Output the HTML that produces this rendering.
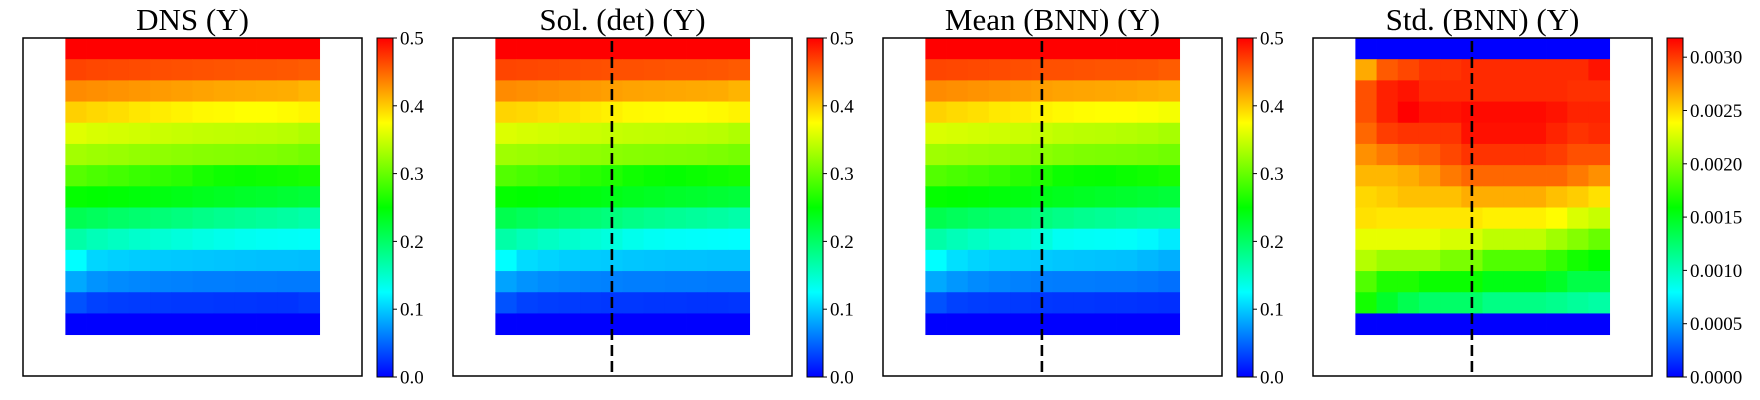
<!DOCTYPE html>
<html><head><meta charset="utf-8"><style>
html,body{margin:0;padding:0;background:#fff;}
svg{display:block;}
text{font-family:"Liberation Serif",serif;fill:#000;}
</style></head>
<body>
<svg id="chart" width="1760" height="400" viewBox="0 0 1760 400" xmlns="http://www.w3.org/2000/svg">
<defs>
<linearGradient id="cmap" x1="0" y1="1" x2="0" y2="0">
<stop offset="0" stop-color="#0000ff"/><stop offset="0.25" stop-color="#00ffff"/><stop offset="0.5" stop-color="#00ff00"/><stop offset="0.75" stop-color="#ffff00"/><stop offset="1" stop-color="#ff0000"/>
</linearGradient>
</defs>
</svg>
<script>
// ---- data ----
const panelTitles = ["DNS (Y)", "Sol. (det) (Y)", "Mean (BNN) (Y)", "Std. (BNN) (Y)"];
const meanTicks = [0.0, 0.1, 0.2, 0.3, 0.4, 0.5];
const meanTickLabels = ["0.0", "0.1", "0.2", "0.3", "0.4", "0.5"];
const stdTicks = [0.0, 0.0005, 0.0010, 0.0015, 0.0020, 0.0025, 0.0030];
const stdTickLabels = ["0.0000", "0.0005", "0.0010", "0.0015", "0.0020", "0.0025", "0.0030"];
const meanMax = 0.5;
const stdMax = 0.00318;
const dnsGrid = [
[0.500,0.500,0.500,0.500,0.500,0.500,0.500,0.500,0.500,0.500,0.500,0.500],
[0.467,0.465,0.464,0.463,0.462,0.461,0.460,0.459,0.458,0.458,0.457,0.455],
[0.432,0.430,0.428,0.426,0.424,0.422,0.420,0.418,0.417,0.416,0.415,0.411],
[0.398,0.394,0.391,0.387,0.384,0.381,0.378,0.377,0.375,0.375,0.377,0.380],
[0.360,0.356,0.354,0.352,0.349,0.347,0.345,0.344,0.343,0.342,0.340,0.336],
[0.330,0.327,0.325,0.322,0.320,0.318,0.316,0.315,0.314,0.313,0.311,0.307],
[0.292,0.287,0.283,0.278,0.274,0.270,0.262,0.257,0.255,0.257,0.259,0.262],
[0.252,0.250,0.248,0.245,0.242,0.239,0.236,0.233,0.230,0.228,0.225,0.222],
[0.210,0.205,0.200,0.196,0.192,0.188,0.184,0.180,0.177,0.174,0.171,0.167],
[0.168,0.160,0.155,0.150,0.146,0.142,0.138,0.135,0.132,0.130,0.129,0.128],
[0.125,0.105,0.102,0.100,0.099,0.098,0.097,0.096,0.095,0.094,0.094,0.093],
[0.083,0.072,0.068,0.066,0.064,0.063,0.062,0.062,0.061,0.061,0.060,0.060],
[0.040,0.032,0.030,0.029,0.028,0.027,0.027,0.026,0.026,0.025,0.025,0.028],
[0.000,0.000,0.000,0.000,0.000,0.000,0.000,0.000,0.000,0.000,0.000,0.000]
];
const detGrid = [
[0.500,0.500,0.500,0.500,0.500,0.500,0.500,0.500,0.500,0.500,0.500,0.500],
[0.466,0.465,0.464,0.463,0.462,0.461,0.461,0.460,0.459,0.459,0.458,0.456],
[0.432,0.430,0.428,0.426,0.424,0.422,0.420,0.419,0.418,0.417,0.416,0.412],
[0.396,0.394,0.391,0.388,0.385,0.382,0.378,0.377,0.376,0.376,0.378,0.381],
[0.358,0.355,0.353,0.351,0.349,0.347,0.345,0.344,0.343,0.342,0.340,0.336],
[0.328,0.326,0.324,0.322,0.320,0.318,0.316,0.315,0.314,0.313,0.311,0.308],
[0.290,0.286,0.282,0.277,0.270,0.265,0.258,0.254,0.252,0.255,0.258,0.261],
[0.252,0.250,0.248,0.245,0.242,0.239,0.236,0.233,0.230,0.228,0.225,0.222],
[0.212,0.206,0.201,0.197,0.193,0.189,0.184,0.180,0.177,0.174,0.171,0.167],
[0.168,0.160,0.154,0.149,0.145,0.141,0.134,0.130,0.128,0.127,0.126,0.125],
[0.125,0.108,0.104,0.101,0.100,0.099,0.097,0.096,0.095,0.095,0.094,0.094],
[0.080,0.072,0.068,0.066,0.064,0.063,0.062,0.062,0.061,0.061,0.060,0.060],
[0.040,0.032,0.030,0.029,0.028,0.027,0.027,0.026,0.026,0.025,0.025,0.026],
[0.000,0.000,0.000,0.000,0.000,0.000,0.000,0.000,0.000,0.000,0.000,0.000]
];
const bnnMeanGrid = [
[0.500,0.500,0.500,0.500,0.500,0.500,0.500,0.500,0.500,0.500,0.500,0.500],
[0.466,0.465,0.464,0.463,0.462,0.461,0.461,0.460,0.459,0.459,0.458,0.455],
[0.432,0.430,0.428,0.426,0.424,0.422,0.420,0.419,0.418,0.417,0.415,0.413],
[0.397,0.393,0.390,0.386,0.384,0.381,0.378,0.376,0.375,0.375,0.373,0.370],
[0.357,0.355,0.353,0.351,0.349,0.347,0.343,0.341,0.340,0.338,0.336,0.332],
[0.328,0.326,0.324,0.322,0.320,0.318,0.314,0.312,0.311,0.310,0.308,0.305],
[0.290,0.286,0.282,0.277,0.270,0.265,0.256,0.253,0.252,0.255,0.258,0.262],
[0.252,0.250,0.248,0.245,0.242,0.239,0.236,0.233,0.230,0.228,0.225,0.222],
[0.212,0.206,0.201,0.197,0.193,0.189,0.184,0.180,0.177,0.174,0.171,0.170],
[0.168,0.160,0.154,0.149,0.145,0.141,0.131,0.129,0.128,0.127,0.122,0.115],
[0.125,0.110,0.104,0.101,0.100,0.099,0.097,0.096,0.095,0.094,0.090,0.086],
[0.083,0.074,0.068,0.065,0.063,0.062,0.061,0.061,0.060,0.060,0.058,0.055],
[0.040,0.032,0.030,0.029,0.028,0.027,0.026,0.026,0.025,0.025,0.024,0.023],
[0.000,0.000,0.000,0.000,0.000,0.000,0.000,0.000,0.000,0.000,0.000,0.000]
];
const bnnStdGrid = [
[0.00000,0.00000,0.00000,0.00000,0.00000,0.00000,0.00000,0.00000,0.00000,0.00000,0.00000,0.00000],
[0.00265,0.00290,0.00296,0.00302,0.00302,0.00305,0.00305,0.00305,0.00305,0.00305,0.00305,0.00312],
[0.00293,0.00308,0.00312,0.00305,0.00305,0.00305,0.00305,0.00305,0.00305,0.00305,0.00303,0.00303],
[0.00293,0.00308,0.00318,0.00312,0.00312,0.00315,0.00315,0.00315,0.00315,0.00312,0.00307,0.00307],
[0.00286,0.00299,0.00302,0.00302,0.00302,0.00313,0.00313,0.00313,0.00313,0.00307,0.00302,0.00305],
[0.00273,0.00280,0.00286,0.00289,0.00296,0.00302,0.00302,0.00302,0.00302,0.00299,0.00293,0.00293],
[0.00261,0.00261,0.00264,0.00270,0.00280,0.00286,0.00286,0.00286,0.00286,0.00286,0.00280,0.00273],
[0.00251,0.00254,0.00258,0.00258,0.00258,0.00264,0.00264,0.00264,0.00264,0.00258,0.00254,0.00248],
[0.00248,0.00246,0.00246,0.00246,0.00246,0.00246,0.00243,0.00243,0.00243,0.00239,0.00227,0.00221],
[0.00231,0.00231,0.00231,0.00231,0.00226,0.00226,0.00218,0.00218,0.00218,0.00209,0.00200,0.00191],
[0.00215,0.00207,0.00207,0.00207,0.00197,0.00197,0.00184,0.00184,0.00184,0.00175,0.00165,0.00159],
[0.00184,0.00168,0.00168,0.00162,0.00162,0.00162,0.00153,0.00153,0.00153,0.00147,0.00137,0.00137],
[0.00165,0.00146,0.00134,0.00127,0.00127,0.00127,0.00118,0.00118,0.00118,0.00115,0.00111,0.00108],
[0.00000,0.00000,0.00000,0.00000,0.00000,0.00000,0.00000,0.00000,0.00000,0.00000,0.00000,0.00000]
];
const grids = [dnsGrid, detGrid, bnnMeanGrid, bnnStdGrid];
const colorMax = [meanMax, meanMax, meanMax, stdMax];
const hasCut = [false, true, true, true];

// ---- layout ----
const svg = document.getElementById('chart');
const NS = 'http://www.w3.org/2000/svg';
const boxLeft = [23, 453, 883, 1313];
const boxW = 339, boxTop = 38, boxH = 338;
const domainN = 16;             // domain is 16x16 cells
const cell = boxW / domainN;
const cbarLeft = [377, 807, 1237, 1667];
const cbarW = 16, cbarTop = 38, cbarBot = 377;

function jet(t) {
  t = Math.max(0, Math.min(1, t));
  const stops = [[0,0,255],[0,255,255],[0,255,0],[255,255,0],[255,0,0]];
  const s = t * 4, i = Math.min(3, Math.floor(s)), f = s - i;
  const a = stops[i], b = stops[i+1];
  return 'rgb(' + a.map((v,k)=>Math.round(v + (b[k]-v)*f)).join(',') + ')';
}
function mk(tag, attrs) {
  const e = document.createElementNS(NS, tag);
  for (const k in attrs) e.setAttribute(k, attrs[k]);
  return e;
}

for (let p = 0; p < 4; p++) {
  const g = mk('g', {});
  
  
  svg.appendChild(g);
  const x0 = boxLeft[p];
  const xScale = c => x0 + (c + 2) * cell;       // columns start 2 cells in
  const yScale = r => boxTop + r * cell;
  const grid = grids[p];
  for (let r = 0; r < grid.length; r++) {
    for (let c = 0; c < grid[r].length; c++) {
      const rc = mk('rect', {x: xScale(c), y: yScale(r), width: cell + 0.4, height: cell + 0.4,
        fill: jet(grid[r][c] / colorMax[p])});
      
      
      g.appendChild(rc);
    }
  }
  const box = mk('rect', {x: x0, y: boxTop, width: boxW, height: boxH, fill: 'none', stroke: '#000', 'stroke-width': 1.5});
  
  
  g.appendChild(box);
  if (hasCut[p]) {
    const lx = xScale(5.5);
    const ln = mk('line', {x1: lx, y1: boxTop + 3, x2: lx, y2: boxTop + boxH, stroke: '#000', 'stroke-width': 2.6, 'stroke-dasharray': '11,5'});
    
    
    g.appendChild(ln);
  }
  const title = mk('text', {x: x0 + boxW/2, y: 30, 'text-anchor': 'middle', 'font-size': 31});
  title.textContent = panelTitles[p];
  
  
  g.appendChild(title);

  // colorbar
  const cb = mk('rect', {x: cbarLeft[p], y: cbarTop, width: cbarW, height: cbarBot - cbarTop, fill: 'url(#cmap)', stroke: '#000', 'stroke-width': 1});
  
  
  g.appendChild(cb);
  const ticks = p === 3 ? stdTicks : meanTicks;
  const labels = p === 3 ? stdTickLabels : meanTickLabels;
  const cScale = v => cbarBot - v / colorMax[p] * (cbarBot - cbarTop);
  for (let i = 0; i < ticks.length; i++) {
    const ty = cScale(ticks[i]);
    const tk = mk('line', {x1: cbarLeft[p] + cbarW, y1: ty, x2: cbarLeft[p] + cbarW + 4, y2: ty, stroke: '#000', 'stroke-width': 1});
    
    
    g.appendChild(tk);
    const tl = mk('text', {x: cbarLeft[p] + cbarW + 7, y: ty + 6.5, 'font-size': 19});
    tl.textContent = labels[i];
    
    
    g.appendChild(tl);
  }
}
</script>
</body></html>
